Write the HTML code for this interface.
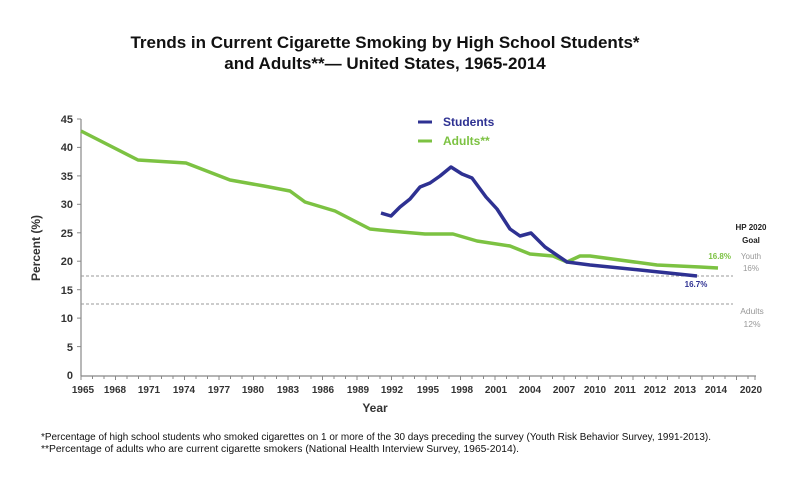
<!DOCTYPE html>
<html><head><meta charset="utf-8"><style>
html,body{margin:0;padding:0;background:#fff;}
svg{display:block;font-family:"Liberation Sans",Arial,sans-serif;}
</style></head><body>
<svg width="800" height="489" viewBox="0 0 800 489" xmlns="http://www.w3.org/2000/svg">
<rect width="800" height="489" fill="#fff"/>
<text x="385" y="48" text-anchor="middle" font-size="17" font-weight="bold" fill="#111">Trends in Current Cigarette Smoking by High School Students*</text>
<text x="385" y="69" text-anchor="middle" font-size="17" font-weight="bold" fill="#111">and Adults**— United States, 1965-2014</text>

<g stroke="#888" stroke-width="1.2" fill="none">
<line x1="81" y1="119" x2="81" y2="376"/>
<line x1="81" y1="376" x2="756" y2="376"/>
</g>
<g stroke="#888" stroke-width="1">
<line x1="77" y1="119" x2="81" y2="119"/><line x1="77" y1="147.4" x2="81" y2="147.4"/><line x1="77" y1="175.9" x2="81" y2="175.9"/><line x1="77" y1="204.3" x2="81" y2="204.3"/><line x1="77" y1="232.8" x2="81" y2="232.8"/><line x1="77" y1="261.2" x2="81" y2="261.2"/><line x1="77" y1="289.7" x2="81" y2="289.7"/><line x1="77" y1="318.1" x2="81" y2="318.1"/><line x1="77" y1="346.6" x2="81" y2="346.6"/>
</g>
<g font-size="11" font-weight="bold" fill="#333" text-anchor="end">
<text x="73" y="123">45</text><text x="73" y="151">40</text><text x="73" y="180">35</text><text x="73" y="208">30</text><text x="73" y="237">25</text><text x="73" y="265">20</text><text x="73" y="294">15</text><text x="73" y="322">10</text><text x="73" y="351">5</text><text x="73" y="379">0</text>
</g>
<text transform="translate(40,248) rotate(-90)" text-anchor="middle" font-size="12" font-weight="bold" fill="#333">Percent (%)</text>

<g font-size="10" font-weight="bold" fill="#333" text-anchor="middle">
<text x="83" y="393">1965</text><text x="115" y="393">1968</text><text x="149" y="393">1971</text><text x="184" y="393">1974</text><text x="219" y="393">1977</text><text x="253" y="393">1980</text><text x="288" y="393">1983</text><text x="323" y="393">1986</text><text x="358" y="393">1989</text><text x="392" y="393">1992</text><text x="428" y="393">1995</text><text x="462" y="393">1998</text><text x="496" y="393">2001</text><text x="530" y="393">2004</text><text x="564" y="393">2007</text><text x="595" y="393">2010</text><text x="625" y="393">2011</text><text x="655" y="393">2012</text><text x="685" y="393">2013</text><text x="716" y="393">2014</text><text x="751" y="393">2020</text>
</g>
<path d="M81 376 v4 M92.5 376 v3 M104 376 v3 M115.5 376 v4 M127 376 v3 M138.5 376 v3 M150 376 v4 M161.5 376 v3 M173 376 v3 M184.5 376 v4 M196 376 v3 M207.5 376 v3 M219 376 v4 M230.5 376 v3 M242 376 v3 M253.5 376 v4 M265 376 v3 M276.5 376 v3 M288 376 v4 M299.5 376 v3 M311 376 v3 M322.5 376 v4 M334 376 v3 M345.5 376 v3 M357 376 v4 M368.5 376 v3 M380 376 v3 M391.5 376 v4 M403 376 v3 M414.5 376 v3 M426 376 v4 M437.5 376 v3 M449 376 v3 M460.5 376 v4 M472 376 v3 M483.5 376 v3 M495 376 v4 M506.5 376 v3 M518 376 v3 M529.5 376 v4 M541 376 v3 M552.5 376 v3 M564 376 v4 M575.5 376 v3 M587 376 v3 M598.5 376 v4 M610 376 v3 M621.5 376 v3 M633 376 v4 M644.5 376 v3 M656 376 v3 M667.5 376 v4 M679 376 v3 M690.5 376 v3 M702 376 v4 M713.5 376 v3 M725 376 v3 M736.5 376 v4 M748 376 v3 M755 376 v4" stroke="#888" stroke-width="1"/>
<text x="375" y="412" text-anchor="middle" font-size="12" font-weight="bold" fill="#333">Year</text>

<line x1="81" y1="276" x2="733" y2="276" stroke="#999" stroke-width="1" stroke-dasharray="3,2"/>
<line x1="81" y1="304" x2="733" y2="304" stroke="#999" stroke-width="1" stroke-dasharray="3,2"/>

<polyline fill="none" stroke="#7cc242" stroke-width="3.5" stroke-linejoin="round" points="81,131 138,160 186,163 230,180 264,186 290,191 305,202 335,211 370,229 390,231 425,234 453,234 477,241 510,246 530,254 553,256 567,262 580,256 590,256 657,265 700,267 718,268"/>
<polyline fill="none" stroke="#2e3192" stroke-width="3.5" stroke-linejoin="round" points="381,213 391,216 400,207 410,199 420,187 430,183 440,176 451,167 462,174 472,178 486,197 497,209 510,229 520,236 531,233 545,247 567,262 590,265 640,270 697,276"/>

<line x1="418" y1="122" x2="432" y2="122" stroke="#2e3192" stroke-width="3"/>
<text x="443" y="126" font-size="12" font-weight="bold" fill="#2e3192">Students</text>
<line x1="418" y1="141" x2="432" y2="141" stroke="#7cc242" stroke-width="3"/>
<text x="443" y="145" font-size="12" font-weight="bold" fill="#7cc242">Adults**</text>

<text x="751" y="230" text-anchor="middle" font-size="8" font-weight="bold" fill="#222">HP 2020</text>
<text x="751" y="243" text-anchor="middle" font-size="8" font-weight="bold" fill="#222">Goal</text>
<text x="731" y="259" text-anchor="end" font-size="8" font-weight="bold" fill="#7cc242">16.8%</text>
<text x="751" y="259" text-anchor="middle" font-size="8" fill="#999">Youth</text>
<text x="751" y="271" text-anchor="middle" font-size="8" fill="#999">16%</text>
<text x="696" y="287" text-anchor="middle" font-size="8" font-weight="bold" fill="#2e3192">16.7%</text>
<text x="752" y="314" text-anchor="middle" font-size="8.5" fill="#999">Adults</text>
<text x="752" y="327" text-anchor="middle" font-size="8.5" fill="#999">12%</text>

<text x="41" y="440" font-size="10" fill="#111" textLength="670" lengthAdjust="spacingAndGlyphs">*Percentage of high school students who smoked cigarettes on 1 or more of the 30 days preceding the survey (Youth Risk Behavior Survey, 1991-2013).</text>
<text x="41" y="452" font-size="10" fill="#111" textLength="478" lengthAdjust="spacingAndGlyphs">**Percentage of adults who are current cigarette smokers (National Health Interview Survey, 1965-2014).</text>
</svg>
</body></html>
